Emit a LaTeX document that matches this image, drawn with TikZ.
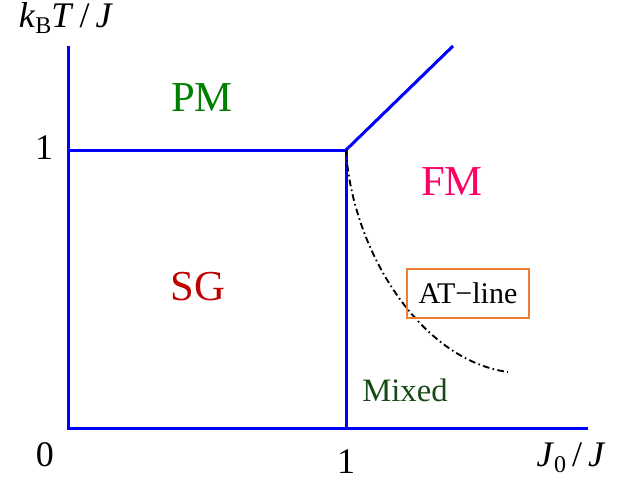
\documentclass[tikz,border=0pt]{standalone}
\usepackage{fontspec}
\setmainfont{Liberation Serif}
\definecolor{pmgreen}{RGB}{0,128,0}
\definecolor{fmpink}{RGB}{255,0,102}
\definecolor{sgred}{RGB}{192,0,0}
\definecolor{mixgreen}{RGB}{22,75,22}
\definecolor{atorange}{RGB}{237,125,49}

\begin{document}
\begin{tikzpicture}[x=0.75pt, y=-0.75pt,
  phase/.style={blue, line width=2.25pt},
  region/.style={font=\fontsize{32}{36}\selectfont},
  ticklab/.style={font=\fontsize{27}{30}\selectfont}]
  \useasboundingbox (0,0) rectangle (625,483);
  % corner points of the phase diagram
  \coordinate (O) at (68,428);
  \coordinate (ytop) at (68,46);
  \coordinate (xend) at (588,428);
  \coordinate (yone) at (68,150);
  \coordinate (tri) at (346,150);
  \coordinate (xone) at (346,428);
  \coordinate (fmend) at (453,46);
  \coordinate (atend) at (508,372);
  % axes
  \draw[phase] (ytop) -- (O) -- (xend);
  % phase boundaries
  \draw[phase] (yone) -- (tri) -- (xone);
  \draw[phase] (tri) -- (fmend);
  % de Almeida--Thouless line
  \draw[line width=1.4pt, dash pattern=on 5pt off 2.5pt on 1.2pt off 2.5pt]
    (tri) .. controls (352,250) and (420,360) .. (atend);
  % axis labels
  \node[ticklab, anchor=base] (ylab) at (66,27)
    {\textit{k}\raisebox{-0.4ex}{\fontsize{18}{20}\selectfont B}\textit{T}\,/\,\textit{J}};
  \node[ticklab, anchor=base] (xlab) at (571,466)
    {\textit{J}\raisebox{-0.4ex}{\fontsize{18}{20}\selectfont 0}\,/\,\textit{J}};
  \node[ticklab] (tzero) at (45,455) {0};
  \node[ticklab] (tyone) at (44,148) {1};
  \node[ticklab] (txone) at (346,462) {1};
  % phases
  \node[region, pmgreen] (pm) at (202,98) {PM};
  \node[region, fmpink] (fm) at (452,182) {FM};
  \node[region, sgred] (sg) at (198,287) {SG};
  \node[mixgreen, font=\fontsize{24.5}{27}\selectfont] (mixed) at (405,390) {Mixed};
  \node[draw=atorange, line width=1.5pt, minimum width=91.5pt, minimum height=36.75pt,
    inner sep=0pt, font=\fontsize{22.5}{25}\selectfont] (atbox) at (468,293.5) {AT−line};
\end{tikzpicture}
\end{document}
